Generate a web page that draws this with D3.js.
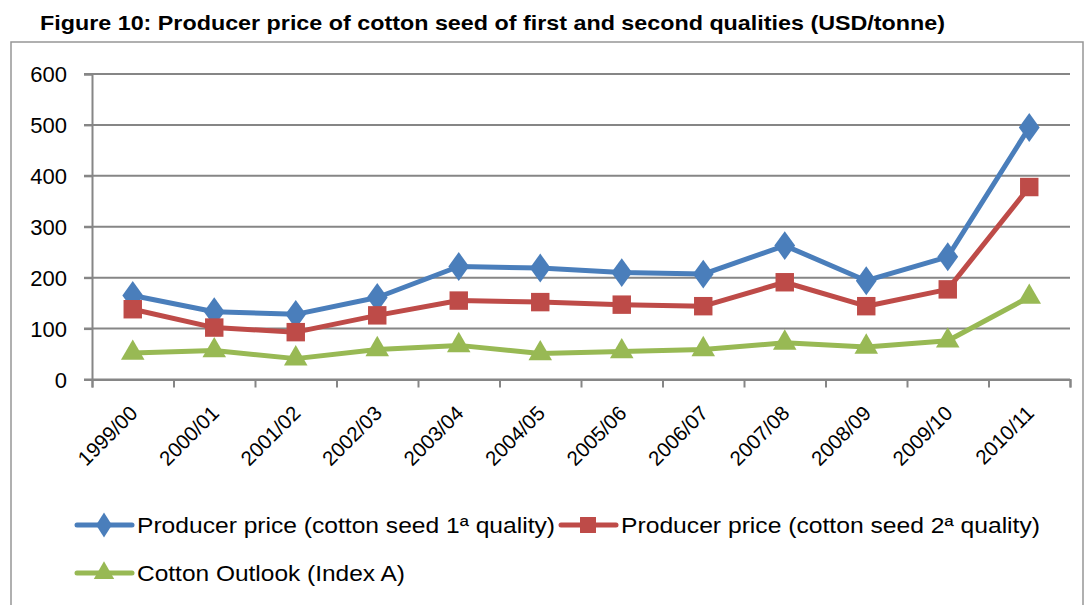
<!DOCTYPE html>
<html>
<head>
<meta charset="utf-8">
<script src="https://cdn.jsdelivr.net/npm/d3@7"></script>
<style>
  body { margin: 0; background: #fff; }
  text { font-family: "Liberation Sans", Arial, sans-serif; fill: #000; }
</style>
</head>
<body>
<svg width="1091" height="605"></svg>
<script>
// values
var seasons = ["1999/00", "2000/01", "2001/02", "2002/03", "2003/04", "2004/05",
               "2005/06", "2006/07", "2007/08", "2008/09", "2009/10", "2010/11"];
var quality1 = [165, 133, 128, 161, 222, 219, 210, 207, 263, 194, 241, 495];
var quality2 = [138, 102, 93, 126, 155, 152, 147, 144, 191, 144, 177, 378];
var indexA   = [52, 57, 41, 59, 67, 51, 55, 59, 72, 64, 76, 162];
var yTicks = [0, 100, 200, 300, 400, 500, 600];
var names = ["Producer price (cotton seed 1\u00aa quality)",
             "Producer price (cotton seed 2\u00aa quality)",
             "Cotton Outlook (Index A)"];

var svg = d3.select("svg");
var PLOT = {left: 92, right: 1070, top: 74, bottom: 379.5};

// frame around the chart area
svg.append("rect")
    .attr("x", 11).attr("y", 42).attr("width", 1072).attr("height", 600)
    .attr("fill", "none").attr("stroke", "#969696").attr("stroke-width", 1.5);

svg.append("text")
    .attr("x", 40).attr("y", 30)
    .attr("font-size", 21).attr("font-weight", "bold")
    .attr("textLength", 905).attr("lengthAdjust", "spacingAndGlyphs")
    .text("Figure 10: Producer price of cotton seed of first and second qualities (USD/tonne)");

var x = d3.scaleBand().domain(seasons).range([PLOT.left, PLOT.right]);
var xEdge = d3.scaleLinear().domain([0, seasons.length]).range([PLOT.left, PLOT.right]);
var y = d3.scaleLinear().domain([0, 600]).range([PLOT.bottom, PLOT.top]);

// gridlines
svg.append("g")
    .selectAll("line").data(yTicks).join("line")
    .attr("x1", PLOT.left - 8).attr("x2", PLOT.right)
    .attr("y1", d => y(d)).attr("y2", d => y(d))
    .attr("stroke", "#868686").attr("stroke-width", 2);

// y axis
var yAxis = svg.append("g")
    .attr("transform", "translate(" + PLOT.left + ",0)")
    .call(d3.axisLeft(y).tickValues(yTicks).tickSize(8).tickPadding(17));
yAxis.select(".domain").attr("stroke", "#868686").attr("stroke-width", 2);
yAxis.selectAll(".tick line").attr("stroke", "#868686").attr("stroke-width", 2);
yAxis.selectAll("text").attr("font-size", 22).attr("dy", "0.36em")
    .style("font-family", "'Liberation Sans', Arial, sans-serif").attr("fill", "#000");

// x axis: ticks on category edges
var xAxis = svg.append("g")
    .attr("transform", "translate(0," + PLOT.bottom + ")")
    .call(d3.axisBottom(xEdge).tickValues(d3.range(seasons.length + 1)).tickSize(8).tickFormat(""));
xAxis.select(".domain").attr("stroke", "#868686").attr("stroke-width", 2);
xAxis.selectAll(".tick line").attr("stroke", "#868686").attr("stroke-width", 2);

svg.append("g")
    .selectAll("text").data(seasons).join("text")
    .attr("text-anchor", "end")
    .attr("font-size", 20.5)
    .attr("transform", d => "translate(" + (x(d) + x.bandwidth() / 2 + 6) + "," + (PLOT.bottom + 35) + ") rotate(-45)")
    .text(d => d);

var cx = d => x(d) + x.bandwidth() / 2;

var series = [
  {name: names[0], values: quality1, color: "#4A7EBB", marker: d3.symbolDiamond, size: 240},
  {name: names[1], values: quality2, color: "#BE4B48", marker: d3.symbolSquare, size: 340},
  {name: names[2], values: indexA,   color: "#98B954", marker: d3.symbolTriangle, size: 240}
];

var line = d3.line()
    .x((d, i) => cx(seasons[i]))
    .y(d => y(d));

series.forEach(function(s) {
  var g = svg.append("g");
  g.append("path")
      .datum(s.values)
      .attr("fill", "none")
      .attr("stroke", s.color)
      .attr("stroke-width", 5)
      .attr("stroke-linejoin", "round")
      .attr("d", line);
  g.selectAll("path.mk").data(s.values).join("path")
      .attr("class", "mk")
      .attr("transform", (d, i) => "translate(" + cx(seasons[i]) + "," + y(d) + ")" +
            (s.marker === d3.symbolDiamond ? " scale(1.25,1)" : ""))
      .attr("d", d3.symbol().type(s.marker).size(s.size))
      .attr("fill", s.color);
});

// legend
var legendPos = [
  {x: 77, y: 525, tx: 137, tw: 418},
  {x: 561, y: 525, tx: 621, tw: 419},
  {x: 77, y: 573, tx: 137, tw: 268}
];
series.forEach(function(s, i) {
  var p = legendPos[i];
  var g = svg.append("g");
  g.append("line")
      .attr("x1", p.x).attr("x2", p.x + 55)
      .attr("y1", p.y).attr("y2", p.y)
      .attr("stroke", s.color).attr("stroke-width", 5).attr("stroke-linecap", "round");
  g.append("path")
      .attr("transform", "translate(" + (p.x + 27) + "," + p.y + ")" +
            (s.marker === d3.symbolDiamond ? " scale(1.1,1)" : ""))
      .attr("d", d3.symbol().type(s.marker).size(s.size * 0.75))
      .attr("fill", s.color);
  g.append("text")
      .attr("x", p.tx).attr("y", p.y + 8)
      .attr("font-size", 22)
      .attr("textLength", p.tw).attr("lengthAdjust", "spacingAndGlyphs")
      .text(s.name);
});
</script>
</body>
</html>
